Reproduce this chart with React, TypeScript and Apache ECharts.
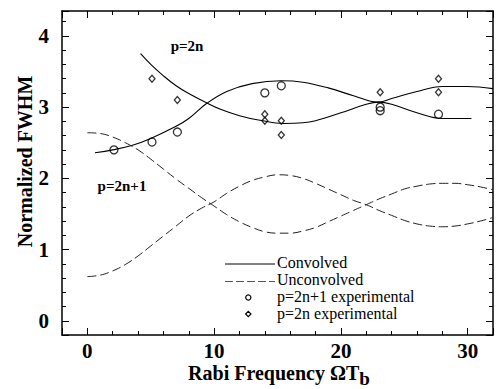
import React, { useEffect, useRef } from "react";
import * as echarts from "echarts";

// Convolved curves
const convOddX = [0.6, 2, 3.5, 5, 7, 8, 9.4, 11, 13, 15.3, 17, 19, 21, 22.9, 24, 26, 28, 30, 32];
const convOddY = [2.36, 2.4, 2.46, 2.56, 2.73, 2.84, 3.05, 3.22, 3.33, 3.37, 3.35, 3.27, 3.16, 3.07, 3.12, 3.22, 3.29, 3.29, 3.26];
const convEvenX = [4.2, 5, 6, 7, 8, 9.4, 10.5, 12, 13.5, 15.5, 17, 18, 20, 22, 23, 24, 26, 28, 30.3];
const convEvenY = [3.75, 3.6, 3.44, 3.3, 3.19, 3.06, 2.97, 2.88, 2.82, 2.77, 2.78, 2.81, 2.92, 3.04, 3.07, 3.04, 2.92, 2.84, 2.84];
// Unconvolved curves
const unconvX = [0, 1, 2, 3, 4, 5, 6, 7, 8, 9, 10, 11, 12, 13, 14, 15, 16, 17, 18, 19, 20, 21, 22, 23, 24, 25, 26, 27, 28, 29, 30, 31, 32];
const unconvOddY = [2.64, 2.63, 2.58, 2.5, 2.4, 2.27, 2.13, 1.99, 1.86, 1.73, 1.61, 1.49, 1.39, 1.31, 1.25, 1.23, 1.23, 1.26, 1.31, 1.39, 1.47, 1.55, 1.63, 1.71, 1.78, 1.85, 1.89, 1.92, 1.93, 1.93, 1.91, 1.88, 1.84];
const unconvEvenY = [0.62, 0.64, 0.7, 0.79, 0.91, 1.05, 1.19, 1.33, 1.47, 1.58, 1.67, 1.79, 1.89, 1.97, 2.02, 2.05, 2.04, 2.0, 1.93, 1.85, 1.77, 1.69, 1.63, 1.55, 1.48, 1.41, 1.36, 1.33, 1.32, 1.33, 1.36, 1.4, 1.45];
// Experimental points
const expOddX = [2.1, 5.1, 7.1, 14.0, 15.3, 23.1, 23.1, 27.7];
const expOddY = [2.4, 2.51, 2.65, 3.2, 3.3, 3.0, 2.95, 2.9];
const expEvenX = [5.1, 7.1, 14.0, 14.0, 15.3, 15.3, 23.1, 27.7, 27.7];
const expEvenY = [3.4, 3.1, 2.9, 2.81, 2.81, 2.61, 3.21, 3.4, 3.21];

const zip = (xs: number[], ys: number[]) => xs.map((x, i) => [x, ys[i]]);

const FONT = "'Liberation Serif', 'Times New Roman', 'DejaVu Serif', serif";

const txt = (text: string, size: number, bold: boolean, align = "left") => ({
  text,
  fontFamily: FONT,
  fontSize: size,
  fontWeight: bold ? "bold" : "normal",
  fill: "#000",
  align,
  verticalAlign: "middle",
});

export default function App() {
  const ref = useRef<HTMLDivElement>(null);
  useEffect(() => {
    if (!ref.current) return;
    const chart = echarts.init(ref.current, null, { renderer: "svg" });
    const axisLine = { show: true, onZero: false, lineStyle: { color: "#000", width: 1.5 } };
    const noLine = { show: false, onZero: false };
    const tickStyle = { color: "#000", width: 1 };
    const xBase = { type: "value", min: -2, max: 32, splitLine: { show: false } };
    const yBase = { type: "value", min: -0.2, max: 4.35, splitLine: { show: false } };
    const isInt = (v: number) => Math.abs(v - Math.round(v)) < 1e-6;
    const solid = { color: "#000", width: 1.1, type: "solid" };
    const dashed = { color: "#222", width: 1, type: [9, 4] };
    const option: any = {
      animation: false,
      backgroundColor: "#fff",
      grid: { left: 62, top: 11, right: 0, bottom: 54 },
      xAxis: [
        {
          ...xBase, position: "bottom", interval: 2, axisLine,
          axisTick: { inside: true, length: 4, lineStyle: tickStyle },
          axisLabel: {
            margin: 5, color: "#000", fontFamily: FONT, fontWeight: "bold", fontSize: 21,
            formatter: (v: number) => (v >= 0 && Math.round(v) % 10 === 0 ? String(Math.round(v)) : ""),
          },
        },
        {
          ...xBase, position: "bottom", splitNumber: 3, axisLine: noLine,
          axisTick: { inside: true, length: 7, lineStyle: tickStyle }, axisLabel: { show: false },
        },
        {
          ...xBase, position: "top", interval: 2, axisLine,
          axisTick: { inside: true, length: 4, lineStyle: tickStyle }, axisLabel: { show: false },
        },
        {
          ...xBase, position: "top", splitNumber: 3, axisLine: noLine,
          axisTick: { inside: true, length: 7, lineStyle: tickStyle }, axisLabel: { show: false },
        },
      ],
      yAxis: [
        {
          ...yBase, position: "left", interval: 0.2, axisLine,
          axisTick: { inside: true, length: 4, lineStyle: tickStyle },
          axisLabel: {
            margin: 13, color: "#000", fontFamily: FONT, fontWeight: "bold", fontSize: 21,
            formatter: (v: number) => (v >= 0 && v < 4.3 && isInt(v) ? String(Math.round(v)) : ""),
          },
        },
        {
          ...yBase, position: "left", splitNumber: 4, axisLine: noLine,
          axisTick: { inside: true, length: 7, lineStyle: tickStyle }, axisLabel: { show: false },
        },
        {
          ...yBase, position: "right", interval: 0.2, axisLine,
          axisTick: { inside: true, length: 4, lineStyle: tickStyle }, axisLabel: { show: false },
        },
        {
          ...yBase, position: "right", splitNumber: 4, axisLine: noLine,
          axisTick: { inside: true, length: 7, lineStyle: tickStyle }, axisLabel: { show: false },
        },
      ],
      series: [
        { name: "Convolved (p=2n+1)", type: "line", smooth: 0.4, showSymbol: false, data: zip(convOddX, convOddY), lineStyle: solid, z: 3 },
        { name: "Convolved (p=2n)", type: "line", smooth: 0.4, showSymbol: false, data: zip(convEvenX, convEvenY), lineStyle: solid, z: 3 },
        { name: "Unconvolved (p=2n+1)", type: "line", smooth: 0.4, showSymbol: false, data: zip(unconvX, unconvOddY), lineStyle: dashed, z: 3 },
        { name: "Unconvolved (p=2n)", type: "line", smooth: 0.4, showSymbol: false, data: zip(unconvX, unconvEvenY), lineStyle: dashed, z: 3 },
        {
          name: "p=2n+1 experimental", type: "scatter", symbol: "circle", symbolSize: 8,
          data: zip(expOddX, expOddY),
          itemStyle: { color: "transparent", borderColor: "#000", borderWidth: 1.3 }, z: 4,
        },
        {
          name: "p=2n experimental", type: "scatter", symbol: "diamond", symbolSize: [6, 7],
          data: zip(expEvenX, expEvenY),
          itemStyle: { color: "transparent", borderColor: "#000", borderWidth: 1.3 }, z: 4,
        },
      ],
      graphic: [
        { type: "text", x: 187, y: 46, style: txt("p=2n", 15, true, "center") },
        { type: "text", x: 122, y: 186, style: txt("p=2n+1", 15, true, "center") },
        { type: "line", shape: { x1: 225, y1: 264, x2: 275, y2: 264 }, style: { stroke: "#000", lineWidth: 1 } },
        { type: "text", x: 277, y: 262, style: txt("Convolved", 16, false) },
        { type: "line", shape: { x1: 225, y1: 281.5, x2: 275, y2: 281.5 }, style: { stroke: "#555", lineWidth: 1, lineDash: [8, 3] } },
        { type: "text", x: 277, y: 279.3, style: txt("Unconvolved", 16, false) },
        { type: "circle", shape: { cx: 248.3, cy: 297.5, r: 2.6 }, style: { fill: "none", stroke: "#000", lineWidth: 1.2 } },
        { type: "text", x: 277, y: 296.6, style: txt("p=2n+1 experimental", 16, false) },
        { type: "polygon", shape: { points: [[248.3, 311.3], [251, 314], [248.3, 316.7], [245.6, 314]] }, style: { fill: "none", stroke: "#000", lineWidth: 1.2 } },
        { type: "text", x: 277, y: 313.6, style: txt("p=2n experimental", 16, false) },
        {
          type: "text", x: 25, y: 161.5, rotation: Math.PI / 2,
          style: txt("Normalized FWHM", 20, true, "center"),
        },
        {
          type: "text", x: 279, y: 375,
          style: {
            text: "{a|Rabi Frequency ΩT}{b|b}", align: "center", verticalAlign: "middle",
            rich: {
              a: { fontFamily: FONT, fontSize: 20, fontWeight: "bold", fill: "#000", lineHeight: 20, verticalAlign: "top" },
              b: { fontFamily: FONT, fontSize: 19, fontWeight: "bold", fill: "#000", lineHeight: 25, verticalAlign: "bottom" },
            },
          },
        },
      ],
    };
    chart.setOption(option);
    return () => chart.dispose();
  }, []);
  return <div ref={ref} style={{ position: "fixed", left: 0, top: 0, width: 496, height: 389 }} />;
}
